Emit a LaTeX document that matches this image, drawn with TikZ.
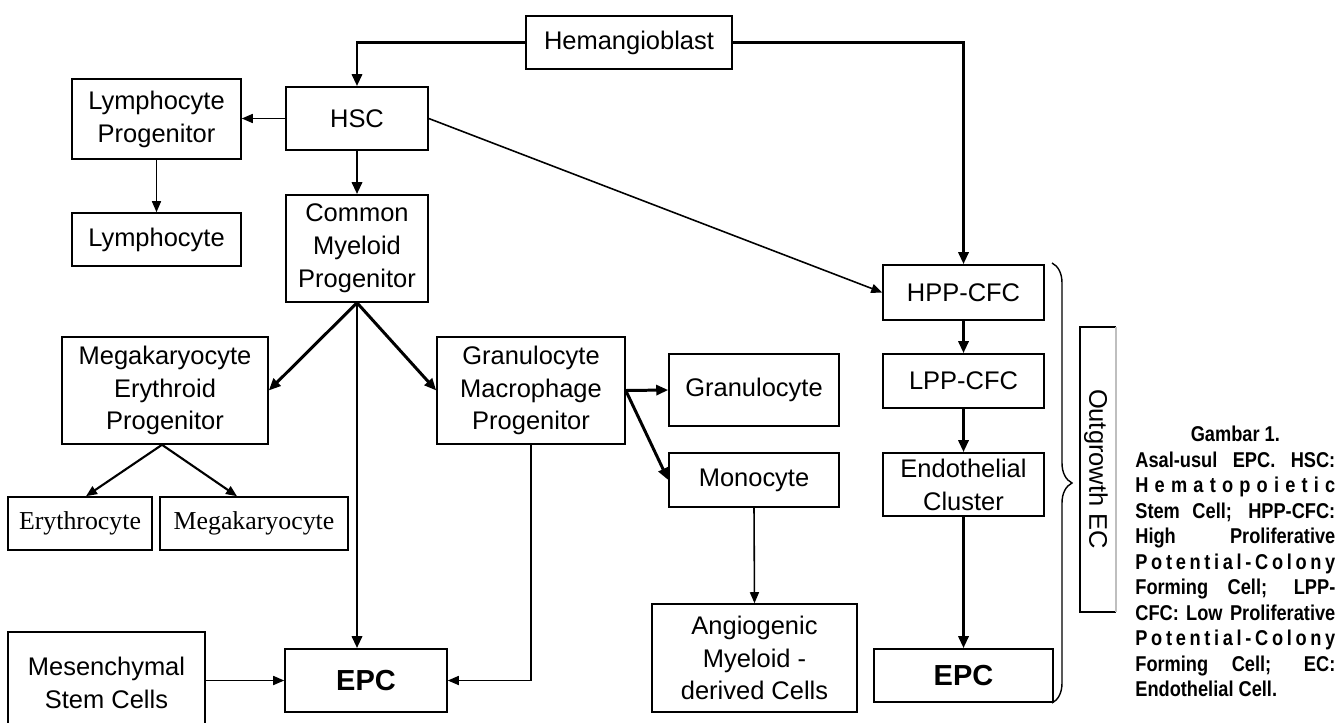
\documentclass[tikz,border=0pt]{standalone}
\usepackage{fontspec}
\setmainfont{Liberation Sans}
\newfontfamily\serifcell{Liberation Serif}
\newfontfamily\capfont[FakeStretch=0.85]{Liberation Sans}
\usetikzlibrary{arrows.meta,decorations.pathreplacing}
\newcommand{\capline}[1]{\makebox[4cm][s]{#1}}
\tikzset{
  cellbox/.style={draw,line width=0.9pt,inner sep=0pt,align=center,font=\fontsize{14.5}{18.7}\selectfont},
  thinflow/.style={line width=0.9pt,-{Triangle[length=0.22cm,width=0.18cm]}},
  midflow/.style={line width=1.2pt,-{Triangle[length=0.22cm,width=0.18cm]}},
  thickflow/.style={line width=1.7pt,-{Triangle[length=0.24cm,width=0.2cm]}},
}
\begin{document}
\begin{tikzpicture}[x=0.02cm,y=-0.02cm]
\clip (0,0) rectangle (1338,723);

% Hematopoietic side
\node[cellbox,minimum width=4.12cm,minimum height=1.06cm] (hemang) at (629,42.5) {Hemangioblast};
\node[cellbox,minimum width=2.84cm,minimum height=1.26cm] (hsc) at (357,118.5) {HSC};
\node[cellbox,minimum width=3.38cm,minimum height=1.6cm] (lprog) at (156.5,119) {Lymphocyte\\Progenitor};
\node[cellbox,minimum width=3.38cm,minimum height=1.06cm] (lymph) at (156.5,239.5) {Lymphocyte};
\node[cellbox,minimum width=2.84cm,minimum height=2.14cm] (cmp) at (357,248.5) {Common\\Myeloid\\Progenitor};
\node[cellbox,minimum width=4.12cm,minimum height=2.14cm] (mep) at (165,390.5) {Megakaryocyte\\Erythroid\\Progenitor};
\node[cellbox,minimum width=3.76cm,minimum height=2.14cm] (gmp) at (531,390.5) {Granulocyte\\Macrophage\\Progenitor};
\node[cellbox,minimum width=2.88cm,minimum height=1.06cm,font=\serifcell\fontsize{14.7}{18.7}\selectfont] (ery) at (80,523.5) {Erythrocyte};
\node[cellbox,minimum width=3.76cm,minimum height=1.06cm,font=\serifcell\fontsize{14.7}{18.7}\selectfont] (mega) at (254,523.5) {Megakaryocyte};
\node[cellbox,minimum width=3.4cm,minimum height=1.44cm] (gran) at (754,390) {Granulocyte};
\node[cellbox,minimum width=3.4cm,minimum height=1.08cm] (mono) at (754,480) {Monocyte};
\node[cellbox,minimum width=4.1cm,minimum height=2.16cm] (angio) at (754.5,658) {Angiogenic\\Myeloid -\\derived Cells};
\node[cellbox,minimum width=3.24cm,minimum height=1.26cm,font=\bfseries\fontsize{16.5}{20}\selectfont] (epc) at (366,680.5) {EPC};
\node[cellbox,minimum width=3.94cm,minimum height=2.04cm] (mesen) at (106.5,683) {Mesenchymal\\Stem Cells};

% Endothelial side
\node[cellbox,minimum width=3.22cm,minimum height=1.1cm] (hpp) at (963.5,292.5) {HPP-CFC};
\node[cellbox,minimum width=3.22cm,minimum height=1.08cm] (lpp) at (963.5,381) {LPP-CFC};
\node[cellbox,minimum width=3.22cm,minimum height=1.26cm] (endo) at (963.5,484.5) {Endothelial\\Cluster};
\node[cellbox,minimum width=3.58cm,minimum height=1.06cm,font=\bfseries\fontsize{16.5}{20}\selectfont] (epcr) at (963.5,675.5) {EPC};

% Connectors
\draw[thickflow] (hemang.west) -| (hsc.north);
\draw[thickflow] (hemang.east) -| (hpp.north);
\draw[thinflow] (hsc.west) -- (hsc.west -| lprog.east);
\draw[thinflow] (lprog.south) -- (lymph.north);
\draw[thickflow] (hsc.south) -- (cmp.north);
\draw[thinflow] (hsc.east) -- (hpp.west);
\draw[thickflow] (cmp.south) -- (mep.east);
\draw[thickflow] (cmp.south) -- (cmp.south |- epc.north);
\draw[thickflow] (cmp.south) -- (gmp.west);
\draw[midflow] ([xshift=-0.06cm]mep.south) -- ([xshift=0.12cm]ery.north);
\draw[midflow] ([xshift=-0.06cm]mep.south) -- ([xshift=-0.34cm]mega.north);
\draw[thickflow] (gmp.east) -- (gran.west);
\draw[thickflow] (gmp.east) -- (mono.west);
\draw[thinflow] (gmp.south) |- (epc.east);
\draw[thinflow] (mesen.east |- epc.west) -- (epc.west);
\draw[thinflow] (mono.south) -- (angio.north);
\foreach \a/\b in {hpp/lpp,lpp/endo,endo/epcr} {
    \draw[thickflow] (\a.south) -- (\b.north);
}

% Outgrowth EC bracket
\draw[line width=0.8pt,decorate,decoration={brace,amplitude=0.4cm}] (1052,263) -- (1052,703);
\draw[line width=0.9pt] (1116,327) -- (1080,327) -- (1080,612) -- (1116,612);
\draw[line width=0.6pt,black!25] (1116,327) -- (1116,612);
\node[rotate=-90,inner sep=0pt,font=\fontsize{14.5}{18.7}\selectfont] (outgrowth) at (1096,469) {Outgrowth EC};

% Caption
\node[anchor=north west,inner sep=0pt,align=left,font=\capfont\bfseries\fontsize{12.2}{14.5}\selectfont] (caption) at (1135,426) {%
\makebox[4cm][c]{Gambar 1.}\\
\capline{Asal-usul EPC. HSC:}\\
\capline{H e m a t o p o i e t i c}\\
\capline{Stem Cell; HPP-CFC:}\\
\capline{High Proliferative}\\
\capline{P o t e n t i a l - C o l o n y}\\
\capline{Forming Cell; LPP-}\\
\capline{CFC: Low Proliferative}\\
\capline{P o t e n t i a l - C o l o n y}\\
\capline{Forming Cell; EC:}\\
\makebox[4cm][l]{Endothelial Cell.}};
\end{tikzpicture}
\end{document}
